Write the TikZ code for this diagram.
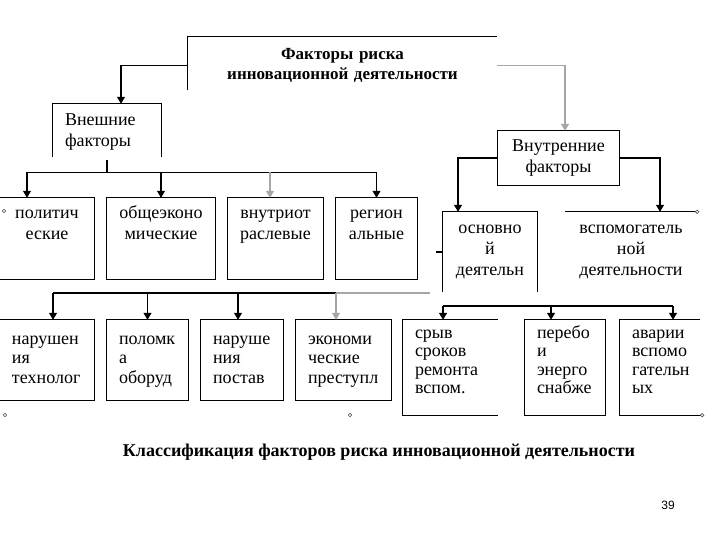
\documentclass[tikz,border=0pt]{standalone}
\usepackage{fontspec}
\setmainfont{Liberation Serif}
\newfontfamily\pagefont{Liberation Sans}
\usetikzlibrary{arrows.meta,positioning,calc}
\tikzset{
  boxline/.style={line width=1.2pt, black},
  dimline/.style={line width=1.2pt, black!35},
  link/.style={boxline, -{Triangle[length=7pt,width=8pt]}},
  dimlink/.style={dimline, -{Triangle[length=7pt,width=8pt]}},
  struts/.style={execute at begin node=\strut, execute at end node=\strut},
  cbox/.style={struts, inner sep=0pt, align=center, font=\fontsize{18}{21}\selectfont},
  lbox/.style={struts, inner ysep=0pt, inner xsep=12pt, align=left, font=\fontsize{18}{19.5}\selectfont},
  tallbox/.style={lbox, minimum height=81pt, font=\fontsize{18}{18.5}\selectfont},
  headbox/.style={struts, inner sep=0pt, align=center, font=\fontsize{17}{20}\selectfont\bfseries},
  endmark/.style={draw=black!70, fill=white, circle, inner sep=0pt, minimum size=3.5pt, line width=0.6pt},
  captext/.style={font=\fontsize{18}{20}\selectfont\bfseries},
  pagetext/.style={font=\pagefont\fontsize{12}{14}\selectfont}
}
\begin{document}
\begin{tikzpicture}[x=1pt,y=-1pt]
  \useasboundingbox (0,0) rectangle (720,540);
  \node[headbox, text width=309pt, minimum height=53pt] (risk) at (342.5,65.5) {Факторы риска\\инновационной деятельности};
  \node[lbox, text width=84pt, minimum height=53pt, font=\fontsize{18}{21}\selectfont] (ext) at (107,131.5) {Внешние\\факторы};
  \node[cbox, text width=121pt, minimum height=54pt] (int) at (558.5,158) {Внутренние\\факторы};
  \node[cbox, text width=94pt, minimum height=54pt] (pol) at (47,225) {политич\\еские};
  \node[cbox, text width=108pt, minimum height=54pt] (econ) at (161,225) {общеэконо\\мические};
  \node[cbox, text width=95pt, minimum height=54pt] (branch) at (275.5,225) {внутриот\\раслевые};
  \node[cbox, text width=81pt, minimum height=54pt] (reg) at (376.5,225) {регион\\альные};
  \node[cbox, text width=94pt, minimum height=76pt] (main) at (490,250) {основно\\й\\деятельн};
  \node[cbox, text width=132pt, minimum height=76pt] (aux) at (631,250) {вспомогатель\\ной\\деятельности};
  \node[lbox, text width=70pt, minimum height=80pt] (tech) at (47,360) {нарушен\\ия\\технолог};
  \node[lbox, text width=57pt, minimum height=80pt] (equip) at (147.5,360) {поломк\\а\\оборуд};
  \node[lbox, text width=58pt, minimum height=80pt] (supply) at (242,360) {наруше\\ния\\постав};
  \node[lbox, text width=71pt, minimum height=80pt] (crime) at (343.5,360) {экономи\\ческие\\преступл};
  \node[tallbox, text width=71pt] (repair) at (450.5,362.5) {срыв\\сроков\\ремонта\\вспом.};
  \node[tallbox, text width=56pt] (power) at (565,362.5) {перебо\\и\\энерго\\снабже};
  \node[tallbox, text width=56pt] (acc) at (660,362.5) {аварии\\вспомо\\гательн\\ых};

  \draw[boxline] ([yshift=2pt]risk.south west) -- ([yshift=2pt]risk.north west) -- ([yshift=2pt]risk.north east);
  \draw[boxline] ([yshift=1pt]ext.south west) -- ([yshift=1pt]ext.north west) -- ([yshift=1pt]ext.north east) -- ([yshift=1pt]ext.south east);
  \draw[boxline] (int.south west) rectangle (int.north east);
  \draw[boxline] (pol.north west) -- (pol.north east) -- ([yshift=-27pt]pol.south east) -- ([yshift=-27pt]pol.south west);
  \foreach \n in {econ,branch,reg}
    \draw[boxline] (\n.north west) rectangle ([yshift=-27pt]\n.south east);
  \draw[boxline] ([yshift=-4pt]main.south west) -- (main.north west) -- (main.north east) -- ([yshift=-4pt]main.south east);
  \draw[boxline] ([yshift=-2pt]main.west) -- ++(-7,0);
  \draw[boxline] (aux.north west) -- (aux.north east) node[endmark] (auxend) {};
  \draw[boxline] (tech.north west) -- (tech.north east) -- (tech.south east) -- (tech.south west);
  \foreach \n in {equip,supply,crime}
    \draw[boxline] (\n.north west) rectangle (\n.south east);
  \draw[boxline] ([yshift=2pt]repair.north east) -- ([yshift=2pt]repair.north west) -- ([yshift=-12pt]repair.south west) -- ([yshift=-12pt]repair.south east);
  \draw[boxline] ([yshift=2pt]power.north west) rectangle ([yshift=-12pt]power.south east);
  \draw[boxline] ([yshift=2pt]acc.north east) -- ([yshift=2pt]acc.north west) -- ([yshift=-12pt]acc.south west) -- ([yshift=-12pt]acc.south east) -- ++(2,0) node[endmark] (accend) {};

  \coordinate (polin) at ([xshift=-20pt]pol.north);
  \coordinate (branchin) at ([xshift=-5.5pt]branch.north);
  \coordinate (techin) at ([xshift=6pt]tech.north);
  \coordinate (supplyin) at ([xshift=-4pt]supply.north);
  \coordinate (crimein) at ([xshift=-7.5pt]crime.north);
  \coordinate (repairin) at ([xshift=-7.5pt,yshift=2pt]repair.north);
  \coordinate (powerin) at ([xshift=-14pt,yshift=2pt]power.north);
  \coordinate (accin) at ([xshift=13pt,yshift=2pt]acc.north);
  \coordinate (lbus) at (0,293);
  \coordinate (rbus) at (0,306);

  \draw[link] (risk.west) -| ([xshift=14pt,yshift=1pt]ext.north);
  \draw[dimlink] (risk.east) -| ([xshift=6.5pt]int.north);
  \draw[boxline] ([yshift=-2pt]ext.south) -- ++(0,12) coordinate (extbus);
  \draw[boxline] (extbus -| polin) -- (extbus -| reg.north);
  \foreach \t in {polin,econ.north,reg.north}
    \draw[link] (extbus -| \t) -- (\t);
  \draw[dimlink] (extbus -| branchin) -- (branchin);
  \draw[link] (int.west) -| ([xshift=-32pt]main.north);
  \draw[link] (int.east) -| ([xshift=29pt]aux.north);

  \draw[boxline] (lbus -| techin) -- (lbus -| crimein);
  \draw[dimline] (lbus -| crimein) -- ++(94,0);
  \foreach \t in {techin,equip.north,supplyin}
    \draw[link] (lbus -| \t) -- (\t);
  \draw[dimlink] (lbus -| crimein) -- (crimein);
  \draw[boxline] (rbus -| repairin) -- (rbus -| accin);
  \foreach \t in {repairin,powerin,accin}
    \draw[link] (rbus -| \t) -- (\t);

  \node[endmark] (mark1) at (4,211) {};
  \node[endmark] (mark2) at (5,415) {};
  \node[endmark] (mark3) at (350,415) {};
  \node[captext] (cap) at (379,452) {Классификация факторов риска инновационной деятельности};
  \node[pagetext] (page) at (668,505) {39};
\end{tikzpicture}
\end{document}
